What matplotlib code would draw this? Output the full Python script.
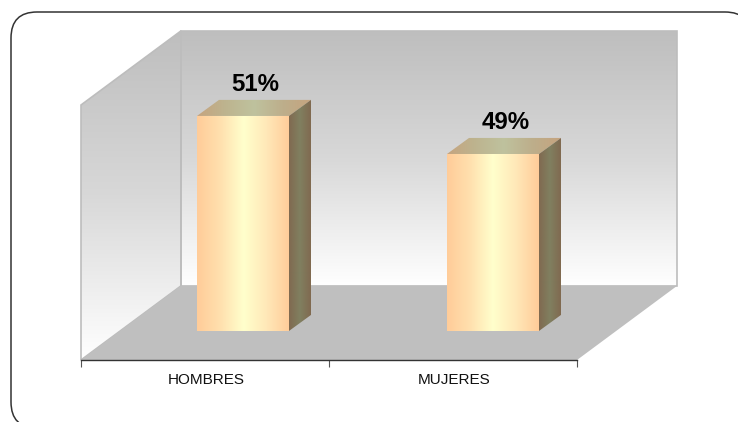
import numpy as np
import matplotlib
matplotlib.use("Agg")
import matplotlib.pyplot as plt
from matplotlib.patches import FancyBboxPatch, Polygon

plt.rcParams['font.family'] = ['Liberation Sans', 'DejaVu Sans']

# data
categories = ["HOMBRES", "MUJERES"]
values = [51, 49]
value_labels = ["51%", "49%"]

W, H = 738, 422
Y_MIN, Y_MAX = 39.7, 53.1

# depth of the 3d box, in axes units (x in categories, y in percent)
DEPTH_X, DEPTH_Y = 100 / 248, 74 / 19
BAR_W = 92 / 248
BAR_STEP = 250 / 248
BAR_DX, BAR_DY = 39 / 248, 29 / 19     # bar base offset from the front edge
BAR_DEPTH_X, BAR_DEPTH_Y = 22 / 248, 16 / 19

fig = plt.figure(figsize=(W / 100, H / 100), dpi=100)

# rounded frame, in pixels; right and bottom sides run off the picture
bg = fig.add_axes([0, 0, 1, 1])
bg.set_xlim(0, W)
bg.set_ylim(H, 0)
bg.axis("off")
bg.add_patch(FancyBboxPatch((11 + 26, 12 + 26), 740 - 52, 416 - 52,
                            boxstyle="round,pad=26,rounding_size=26",
                            fc="white", ec="#333333", lw=1.1))

ax = fig.add_axes([81 / W, 1 - 360 / H, 496 / W, 255 / H])
ax.set_xlim(0, 2)
ax.set_ylim(Y_MIN, Y_MAX)
ax.patch.set_visible(False)
for s in ["top", "left", "right"]:
    ax.spines[s].set_visible(False)
ax.spines["bottom"].set_color("#333333")
ax.spines["bottom"].set_linewidth(1)
ax.spines["bottom"].set_zorder(6)
ax.set_yticks([])
ax.set_xticks([0, 1, 2])
ax.set_xticklabels([])
ax.tick_params(axis="x", length=5, width=0.8, color="#555555")
for i, name in enumerate(categories):
    ax.annotate(name, (i + 0.5, Y_MIN), xytext=(0.7, -9.5), textcoords="offset points",
                ha="center", va="top", fontsize=11, color="#111111", annotation_clip=False)


def grad_fill(poly_pts, colors, horizontal, zorder):
    # gradient image clipped to a polygon
    pts = np.array(poly_pts)
    n = 256
    t = np.linspace(0, 1, n)
    stops = np.linspace(0, 1, len(colors))
    rgb = np.array([[int(c[i:i + 2], 16) / 255 for i in (1, 3, 5)] for c in colors])
    img = np.stack([np.interp(t, stops, rgb[:, k]) for k in range(3)], axis=-1)
    img = img[None, :, :] if horizontal else img[:, None, :]
    im = ax.imshow(img, extent=(pts[:, 0].min(), pts[:, 0].max(), pts[:, 1].min(), pts[:, 1].max()),
                   origin="upper", aspect="auto", zorder=zorder, interpolation="bilinear")
    clip = Polygon(pts, closed=True, transform=ax.transData, fc="none", ec="none")
    im.set_clip_path(clip)
    im.set_clip_box(fig.bbox)


wall_colors = ["#BEBEBE", "#D8D8D8", "#FFFFFF"]
side_wall = [(0, Y_MIN), (DEPTH_X, Y_MIN + DEPTH_Y), (DEPTH_X, Y_MAX + DEPTH_Y), (0, Y_MAX)]
back_wall = [(DEPTH_X, Y_MIN + DEPTH_Y), (2 + DEPTH_X, Y_MIN + DEPTH_Y),
             (2 + DEPTH_X, Y_MAX + DEPTH_Y), (DEPTH_X, Y_MAX + DEPTH_Y)]
floor = [(0, Y_MIN), (2, Y_MIN), (2 + DEPTH_X, Y_MIN + DEPTH_Y), (DEPTH_X, Y_MIN + DEPTH_Y)]

grad_fill(side_wall, wall_colors, False, 1)
grad_fill(back_wall, wall_colors, False, 1)
for pts in (side_wall, back_wall):
    ax.add_patch(Polygon(pts, closed=True, fc="none", ec="#BDBDBD", lw=1.2, zorder=2, clip_on=False))
ax.add_patch(Polygon(floor, closed=True, fc="#BFBFBF", ec="none", zorder=3, clip_on=False))

front_colors = ["#FFCC99", "#FFE0AE", "#FFFFCC", "#FFE8B8", "#FFCC99"]
top_colors = ["#C6A47F", "#BDB48F", "#BFC29E", "#BDAE8B", "#C6A47F"]
side_colors = ["#806A50", "#808060", "#806A50"]

for i, v in enumerate(values):
    x0 = i * BAR_STEP + 0.5 - BAR_W / 2 + BAR_DX - 0.004
    x1 = x0 + BAR_W
    y0 = Y_MIN + BAR_DY
    y1 = v + BAR_DY
    dx, dy = BAR_DEPTH_X, BAR_DEPTH_Y
    grad_fill([(x0, y0), (x1, y0), (x1, y1), (x0, y1)], front_colors, True, 4)
    grad_fill([(x0, y1), (x1, y1), (x1 + dx, y1 + dy), (x0 + dx, y1 + dy)], top_colors, True, 4)
    grad_fill([(x1, y0), (x1 + dx, y0 + dy), (x1 + dx, y1 + dy), (x1, y1)], side_colors, True, 4)
    ax.annotate(value_labels[i], ((x0 + x1) / 2 + dx / 2 + 0.005, y1 + dy), xytext=(0, 6.5),
                textcoords="offset points", ha="center", va="baseline", fontsize=17.3,
                fontweight="bold", color="black", zorder=5, annotation_clip=False)

ax.set_xlim(0, 2)
ax.set_ylim(Y_MIN, Y_MAX)

fig.savefig("out.png", dpi=100)
